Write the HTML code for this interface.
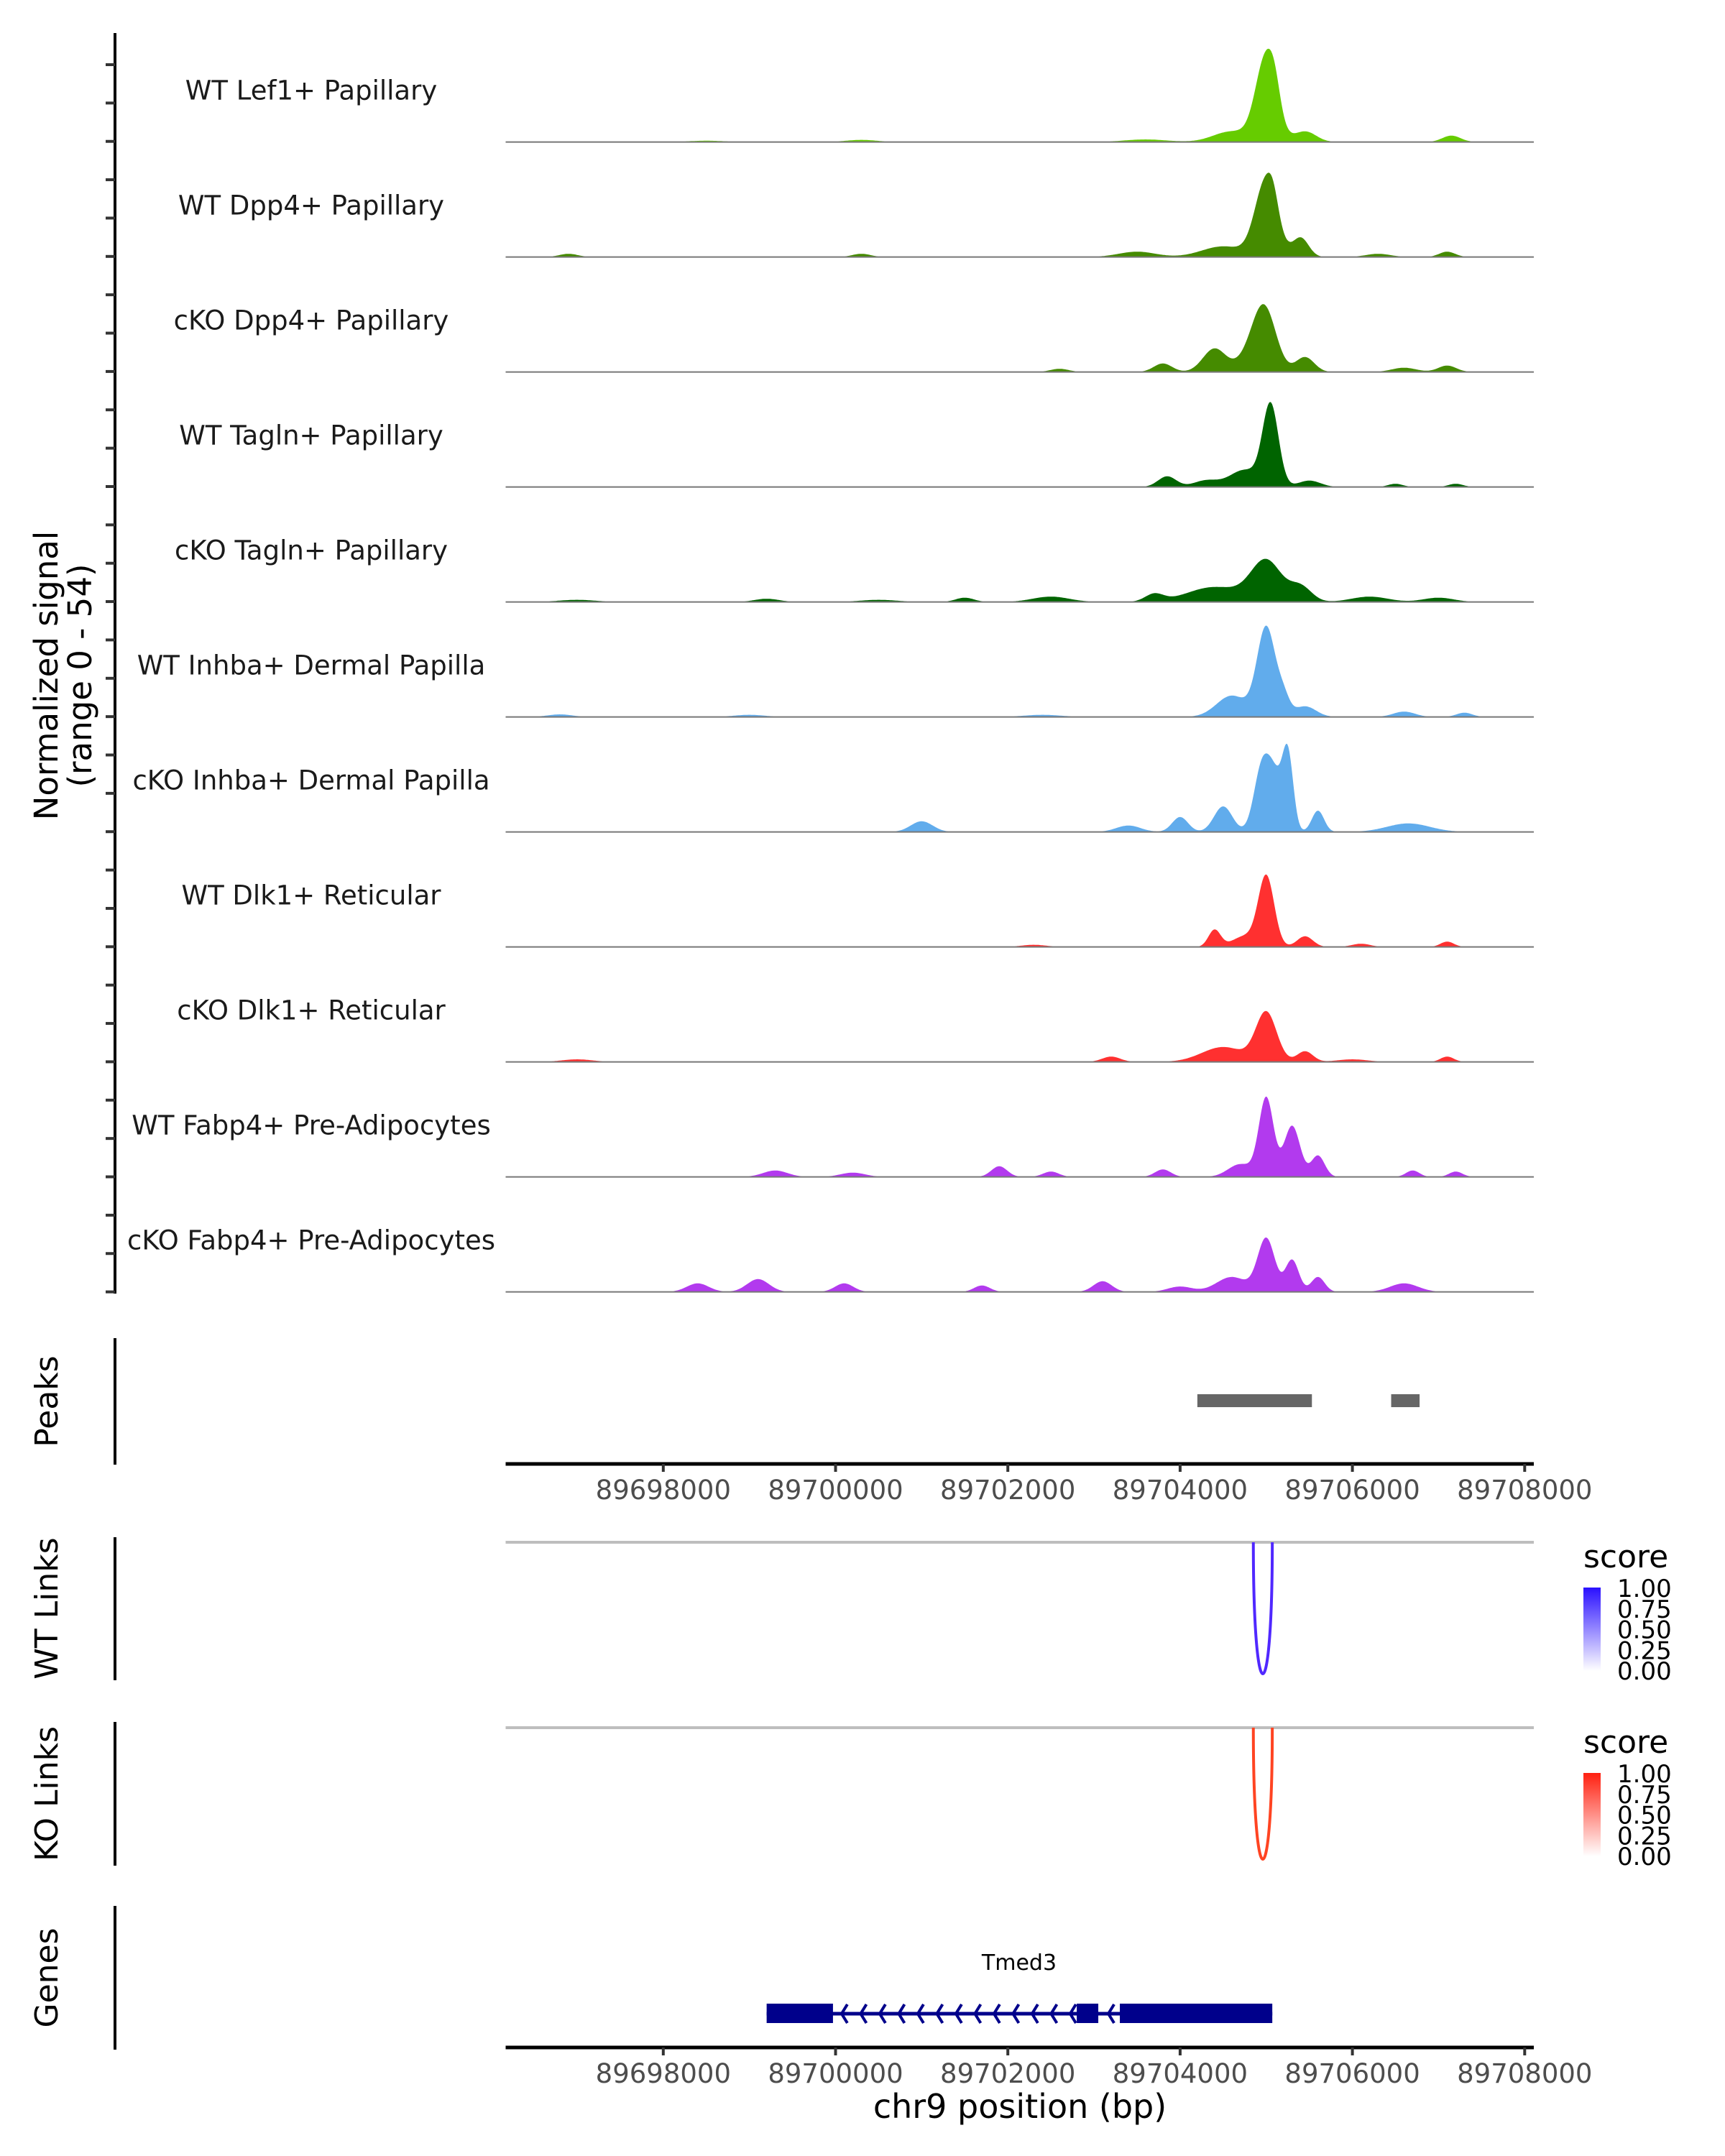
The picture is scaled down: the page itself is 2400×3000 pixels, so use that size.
<!DOCTYPE html>
<html><head><meta charset="utf-8"><style>
html,body{margin:0;padding:0;background:#fff}
svg{display:block}
text{font-family:"DejaVu Sans","Liberation Sans",sans-serif}
</style></head><body>
<svg id="chart" xmlns="http://www.w3.org/2000/svg" width="2400" height="3000" viewBox="0 0 2400 3000">
<defs>
<linearGradient id="gBlue" x1="0" y1="1" x2="0" y2="0"><stop offset="0" stop-color="#ffffff"/><stop offset="1" stop-color="#2a10ff"/></linearGradient>
<linearGradient id="gRed" x1="0" y1="1" x2="0" y2="0"><stop offset="0" stop-color="#ffffff"/><stop offset="1" stop-color="#ff2010"/></linearGradient>
</defs>
<g id="tracks"></g>
<line x1="160" y1="46" x2="160" y2="1800" stroke="#000" stroke-width="4"/>
<g id="yticks"></g>
<g font-size="45" fill="#000" text-anchor="middle">
<text transform="translate(80,940) rotate(-90)">Normalized signal</text>
<text transform="translate(127,940) rotate(-90)">(range 0 - 54)</text>
</g>
<line x1="160" y1="1862" x2="160" y2="2038" stroke="#000" stroke-width="4"/>
<text transform="translate(80,1950) rotate(-90)" font-size="44" text-anchor="middle">Peaks</text>
<g id="peaks"></g>
<g id="axis1"></g>
<line x1="160" y1="2139" x2="160" y2="2338" stroke="#000" stroke-width="4"/>
<text transform="translate(80,2238) rotate(-90)" font-size="44" text-anchor="middle">WT Links</text>
<line x1="160" y1="2396" x2="160" y2="2596" stroke="#000" stroke-width="4"/>
<text transform="translate(80,2496) rotate(-90)" font-size="44" text-anchor="middle">KO Links</text>
<g id="links"></g>
<g id="legends"></g>
<line x1="160" y1="2652" x2="160" y2="2852" stroke="#000" stroke-width="4"/>
<text transform="translate(80,2752) rotate(-90)" font-size="44" text-anchor="middle">Genes</text>
<g id="genes"></g>
<g id="axis2"></g>
<text x="1419" y="2947" font-size="46" text-anchor="middle">chr9 position (bp)</text>
</svg>
<script>
const NS="http://www.w3.org/2000/svg";
const trackNames=["WT Lef1+ Papillary","WT Dpp4+ Papillary","cKO Dpp4+ Papillary","WT Tagln+ Papillary","cKO Tagln+ Papillary","WT Inhba+ Dermal Papilla","cKO Inhba+ Dermal Papilla","WT Dlk1+ Reticular","cKO Dlk1+ Reticular","WT Fabp4+ Pre-Adipocytes","cKO Fabp4+ Pre-Adipocytes"];
const trackColors=["#66cc00","#458b00","#458b00","#006400","#006400","#61acec","#61acec","#ff3030","#ff3030","#b23aee","#b23aee"];
// pileup components per track: [position bp, signal, width bp]
const sig0=[[89705000,40,170],[89705100,8,90],[89704600,5,300],[89705450,5,180],[89707150,3,150],[89703600,1.2,350],[89700300,1,250],[89698500,0.6,300]];
const sig1=[[89705000,36,180],[89705080,6,80],[89705400,9,130],[89704500,5,350],[89703500,2.5,300],[89707100,2.5,130],[89696900,1.5,150],[89700300,1.5,150],[89706300,1.5,200]];
const sig2=[[89704980,29,190],[89704400,11,190],[89705450,7,150],[89703800,4,150],[89706600,2,200],[89707100,3,150],[89702600,1.5,150],[89704800,6,200]];
const sig3=[[89705050,38,130],[89704750,8,250],[89703850,5,150],[89704300,3,200],[89705500,3,180],[89706500,1.5,120],[89707200,1.5,120]];
const sig4=[[89705000,19,250],[89704400,7,450],[89705400,7,180],[89703700,3.5,150],[89701500,2,150],[89702500,2.5,300],[89706200,2.5,300],[89699200,1.5,200],[89707000,2,250],[89700500,1,300],[89697000,1,300]];
const sig5=[[89705000,42,150],[89704600,10,250],[89705450,5,180],[89706600,2.5,180],[89707300,2,130],[89696800,1.2,200],[89699000,1,250],[89702400,1,300],[89705200,8,100]];
const sig6=[[89704950,30,130],[89705250,36,90],[89704500,12,150],[89704000,7,130],[89705600,10,100],[89701000,5,180],[89706650,4,350],[89703400,3,200],[89705100,22,120]];
const sig7=[[89705000,33,130],[89704400,8,100],[89704750,5,200],[89705450,5,130],[89707100,2.5,110],[89706100,1.5,150],[89702300,1,200]];
const sig8=[[89705000,23,170],[89704500,7,350],[89705450,5,130],[89703200,2.5,150],[89707100,2.5,110],[89697000,1.2,250],[89706000,1.2,250]];
const sig9=[[89705000,37,120],[89705300,24,130],[89705600,10,110],[89704700,6,200],[89703800,3.5,130],[89701900,5,130],[89699300,3,200],[89702500,2.5,130],[89706700,3,110],[89707200,2.5,110],[89700200,2,200]];
const sig10=[[89705000,25,140],[89705300,15,110],[89705600,7,110],[89704600,7,250],[89703100,5,150],[89699100,6,180],[89698400,4,180],[89700100,4,150],[89701700,3,130],[89706600,4,230],[89704000,2.5,200]];
const signals=[sig0,sig1,sig2,sig3,sig4,sig5,sig6,sig7,sig8,sig9,sig10];
const xTicks=[89698000,89700000,89702000,89704000,89706000,89708000];
const peakStarts=[89704200,89706450];
const peakEnds=[89705530,89706780];
const wtLinkStart=[89704850], wtLinkEnd=[89705070], wtLinkScore=[1];
const koLinkStart=[89704850], koLinkEnd=[89705070], koLinkScore=[1];
const legendLabels=["1.00","0.75","0.50","0.25","0.00"];
const exonStarts=[89699200,89702800,89703300];
const exonEnds=[89699970,89703050,89705070];

const X0=703.5,X1=2134,BP0=89696170,BP1=89708106;
const sx=bp=>X0+(bp-BP0)*(X1-X0)/(BP1-BP0);
const YMAX=54,TH=160;
const base=i=>197.6+TH*i;
const sy=(i,v)=>base(i)-v*(TH/YMAX);
function el(t,a,p){const e=document.createElementNS(NS,t);for(const k in a)e.setAttribute(k,a[k]);(p||document.getElementById('chart')).appendChild(e);return e;}

const tg=document.getElementById('tracks');
signals.forEach((s,i)=>{
  const g=el('g',{},tg);
  
  
  let d='M'+X0+','+base(i);
  for(let x=X0;x<=X1;x+=1.5){
    const bp=BP0+(x-X0)*(BP1-BP0)/(X1-X0);
    let v=0;s.forEach(p=>{const z=(bp-p[0])/p[2];v+=p[1]*Math.exp(-z*z);});
    if(v<0.3)v=0;
    d+='L'+x.toFixed(1)+','+sy(i,v).toFixed(1);
  }
  d+='L'+X1+','+base(i)+'Z';
  const a=el('path',{d:d,fill:trackColors[i]},g);
  
  
  const bl=el('line',{x1:X0,x2:X1,y1:base(i),y2:base(i),stroke:'#777','stroke-width':2},g);
  
  
  const t=el('text',{x:433,y:base(i)-59,'font-size':37,'text-anchor':'middle',fill:'#1a1a1a'},g);
  
  
  t.textContent=trackNames[i];
});
const yt=document.getElementById('yticks');
for(let k=0;k<=32;k++){const y=90+(1797.6-90)*k/32;const l=el('line',{x1:147,x2:160,y1:y,y2:y,stroke:'#333','stroke-width':4},yt);

}

const pg=document.getElementById('peaks');
peakStarts.forEach((s,k)=>{const r=el('rect',{x:sx(s),y:1940,width:sx(peakEnds[k])-sx(s),height:18,fill:'#666'},pg);

});

function axis(gid,y){
  const g=document.getElementById(gid);
  const l=el('line',{x1:X0,x2:X1,y1:y,y2:y,stroke:'#000','stroke-width':5},g);
  
  
  xTicks.forEach(t=>{
    const tk=el('line',{x1:sx(t),x2:sx(t),y1:y,y2:y+11,stroke:'#333','stroke-width':4},g);
    
    
    const tx=el('text',{x:sx(t),y:y+49,'font-size':37,'text-anchor':'middle',fill:'#4d4d4d'},g);
    
    
    tx.textContent=t;
  });
}
axis('axis1',2037);axis('axis2',2849);

const lg=document.getElementById('links');
function links(top,bottom,st,en,sc,col,name){
  const gl=el('line',{x1:X0,x2:X1,y1:top,y2:top,stroke:'#bebebe','stroke-width':4},lg);
  
  
  st.forEach((s,k)=>{
    const x1=sx(s),x2=sx(en[k]);const cy=top+(bottom-top)/0.75*sc[k];
    const p=el('path',{d:`M${x1},${top} C${x1},${cy} ${x2},${cy} ${x2},${top}`,fill:'none',stroke:col,'stroke-width':4},lg);
    
    
  });
}
links(2146,2329,wtLinkStart,wtLinkEnd,wtLinkScore,'#5028ff','wt-link');
links(2404,2587,koLinkStart,koLinkEnd,koLinkScore,'#ff4422','ko-link');

const lgd=document.getElementById('legends');
function legend(dy,grad,name){
  const t=el('text',{x:2203,y:2181+dy,'font-size':44},lgd);
  
  
  t.textContent='score';
  const r=el('rect',{x:2203,y:2209+dy,width:24,height:116,fill:'url(#'+grad+')'},lgd);
  
  
  legendLabels.forEach((s,k)=>{
    const y=2210+dy+k*28.75;
    const tx=el('text',{x:2250,y:y+12,'font-size':34},lgd);
    
    
    tx.textContent=s;
  });
}
legend(0,'gBlue','wt-score-legend');legend(258,'gRed','ko-score-legend');

const gg=document.getElementById('genes');
const gy=2802;
const gl2=el('line',{x1:sx(exonStarts[0]),x2:sx(exonEnds[2]),y1:gy,y2:gy,stroke:'#00008b','stroke-width':5},gg);


function chev(x){const p=el('path',{d:`M${x+8},${gy-13} L${x},${gy} L${x+8},${gy+13}`,fill:'none',stroke:'#00008b','stroke-width':4},gg);

}
for(let x=sx(exonEnds[0])+12;x<sx(exonStarts[1])-8;x+=26.5)chev(x);
chev(sx(exonEnds[1])+14);
exonStarts.forEach((s,k)=>{const r=el('rect',{x:sx(s),y:2788,width:sx(exonEnds[k])-sx(s),height:27,fill:'#00008b'},gg);

});
const gt=el('text',{x:1418,y:2741,'font-size':30,'text-anchor':'middle'},gg);


gt.textContent='Tmed3';
</script>
</body></html>
